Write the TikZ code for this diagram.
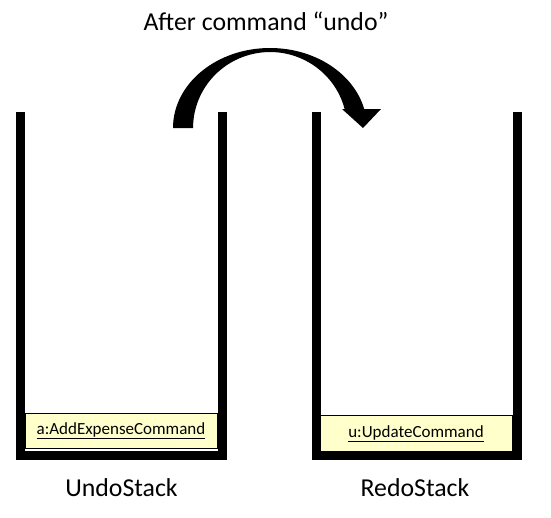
\documentclass[tikz,border=0pt]{standalone}
\usepackage{fontspec}
\setmainfont{Carlito}
\usetikzlibrary{positioning}
\definecolor{cmdyellow}{RGB}{255,255,204}

\begin{document}
\begin{tikzpicture}[x=1pt, y=-1pt,
        wall/.style={line width=9pt, line join=miter, draw=black},
        cmdbox/.style={draw=black, line width=0.8pt, fill=cmdyellow, minimum width=192pt, minimum height=35pt, inner sep=0pt, font=\fontsize{17}{20}\selectfont},
        stacklabel/.style={font=\fontsize{25.8}{30}\selectfont}]
        \useasboundingbox (0,0) rectangle (551,517);

        % Stacks
        \draw[wall] (20.5,112) |- (222.5,455) -- (222.5,112);
        \draw[wall] (316,112) |- (517,455.5) -- (517,112);

        % Commands
        \node[cmdbox] (addcmd) at (121,431) {\underline{a:AddExpenseCommand}};
        \node[cmdbox, minimum height=36pt] (updcmd) at (416,433.5) {\underline{u:UpdateCommand}};

        \node[stacklabel] (undostack) at (121.5,488) {UndoStack};
        \node[stacklabel] (redostack) at (415,488) {RedoStack};

        % Curved arrow
        \fill[black] (173,128) arc[start angle=180, end angle=346.3, x radius=97, y radius=80]
        -- (381,109) -- (363,128) -- (342,109) -- (344.6,109)
        arc[start angle=345.5, end angle=180, x radius=77, y radius=76] -- cycle;

        \node[stacklabel] (title) at (266,21) {After command “undo”};
      \end{tikzpicture}
\end{document}
